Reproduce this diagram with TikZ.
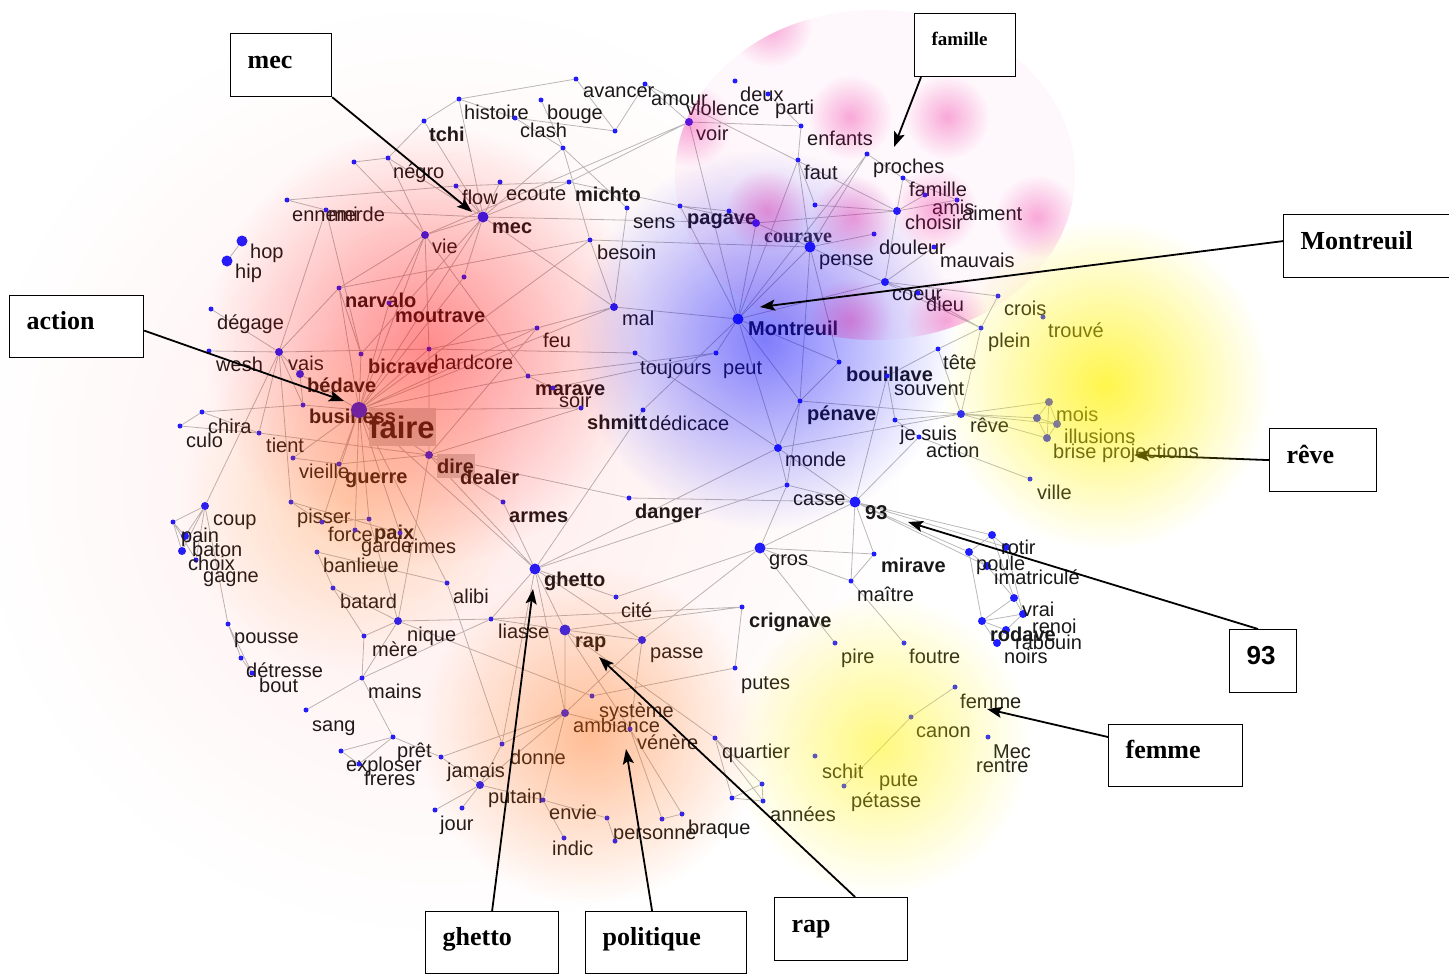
\documentclass[tikz,border=0pt]{standalone}
\usepackage{fontspec}
\setmainfont{Liberation Sans}
\newfontfamily\callfont{Liberation Serif}
\usetikzlibrary{arrows.meta,backgrounds,calc,fadings}

\definecolor{dotblue}{RGB}{30,30,255}
\definecolor{edgegray}{RGB}{185,185,185}
\definecolor{wordink}{RGB}{25,25,25}

\tikzfading[name=blobfade, inner color=transparent!0, outer color=transparent!100]

\tikzset{
  wdot/.style={circle, fill=dotblue, inner sep=0pt, minimum size=5pt},
  middot/.style={wdot, minimum size=8pt},
  bigdot/.style={wdot, minimum size=11pt},
  w/.style={anchor=base west, inner sep=0pt, text=wordink, font=\fontsize{20}{22}\selectfont},
  wb/.style={w, font=\fontsize{20}{22}\selectfont\bfseries},
  link/.style={draw=edgegray, line width=0.8pt},
  callout/.style={draw, fill=white, line width=1.2pt, anchor=north west, inner xsep=17pt, align=left,
    text height=16pt, text depth=10pt, font=\fontsize{26}{28}\callfont\bfseries},
  callarrow/.style={-{Stealth[length=15pt,width=11pt,inset=3pt]}, line width=1.8pt},
}

\begin{document}
\begin{tikzpicture}[x=1pt,y=-1pt]
\useasboundingbox (0,0) rectangle (1449,974);

% gray boxes behind faire and dire
\fill[gray!35] (369,408) rectangle (436,446);
\fill[gray!35] (437,454) rectangle (475,478);

% top and left words
\node[wdot] (hist) at (459,99) {}; \node[w] (hist-t) at (464,119) {histoire};
\node[wdot] (avancer) at (576,79) {}; \node[w] (avancer-t) at (583,98) {avancer};
\node[wdot] (amour) at (645,84) {}; \node[w] (amour-t) at (651,105) {amour};
\node[wdot] (deux) at (735,81) {}; \node[w] (deux-t) at (740,102) {deux};
\node[wdot] (parti) at (768,94) {}; \node[w] (parti-t) at (775,114) {parti};
\node[w] (violence-t) at (686,115) {violence};
\node[middot] (voir) at (689,122) {}; \node[w] (voir-t) at (696,140) {voir};
\node[wdot] (bouge) at (541,100) {}; \node[w] (bouge-t) at (547,119) {bouge};
\node[wdot] (clash) at (515,118) {}; \node[w] (clash-t) at (520,137) {clash};
\node[wdot] (nA) at (615,131) {};
\node[wdot] (tchi) at (424,121) {}; \node[wb] (tchi-t) at (429,141) {tchi};
\node[wdot] (negro) at (388,158) {}; \node[w] (negro-t) at (393,178) {négro};
\node[wdot] (nB) at (354,162) {};
\node[wdot] (flow) at (456,186) {}; \node[w] (flow-t) at (462,204) {flow};
\node[wdot] (ecoute) at (500,182) {}; \node[w] (ecoute-t) at (506,200) {ecoute};
\node[wdot] (michto) at (569,182) {}; \node[wb] (michto-t) at (575,201) {michto};
\node[wdot] (nC) at (563,148) {};
\node[wdot] (ennemi) at (287,200) {}; \node[w] (ennemi-t) at (292,221) {ennemi};
\node[wdot] (merde) at (326,210) {}; \node[w] (merde-t) at (328,221) {merde};
\node[bigdot] (mec) at (483,217) {}; \node[wb] (mec-t) at (492,233) {mec};
\node[wdot] (sens) at (627,208) {}; \node[w] (sens-t) at (633,228) {sens};
\node[wdot] (pagave) at (680,206) {}; \node[wb] (pagave-t) at (687,224) {pagave};
\node[wdot] (nD) at (729,211) {};
\node[middot] (courave) at (756,223) {};
\node[w, font=\fontsize{20}{22}\callfont\bfseries, text=gray!40!black] (courave-t) at (764,242) {courave};
\node[wdot] (besoin) at (590,240) {}; \node[w] (besoin-t) at (597,259) {besoin};
\node[middot] (vie) at (425,235) {}; \node[w] (vie-t) at (432,253) {vie};
\node[bigdot] (hop) at (242,241) {}; \node[w] (hop-t) at (250,258) {hop};
\node[bigdot] (hip) at (227,261) {}; \node[w] (hip-t) at (235,278) {hip};
\node[wdot] (nE) at (464,277) {};
\node[wdot] (narvalo) at (339,288) {}; \node[wb] (narvalo-t) at (345,307) {narvalo};
\node[wdot] (moutrave) at (389,303) {}; \node[wb] (moutrave-t) at (395,322) {moutrave};
\node[wdot] (degage) at (211,309) {}; \node[w] (degage-t) at (217,329) {dégage};
\node[middot] (mal) at (614,307) {}; \node[w] (mal-t) at (622,325) {mal};
\node[wdot] (feu) at (537,328) {}; \node[w] (feu-t) at (543,347) {feu};
\node[bigdot] (montreuil) at (738,319) {}; \node[wb] (montreuil-t) at (748,335) {Montreuil};
\node[middot] (vais) at (279,352) {}; \node[w] (vais-t) at (288,370) {vais};
\node[wdot] (wesh) at (209,351) {}; \node[w] (wesh-t) at (216,371) {wesh};
\node[wdot] (bicrave) at (361,354) {}; \node[wb] (bicrave-t) at (368,373) {bicrave};
\node[wdot] (hardcore) at (429,349) {}; \node[w] (hardcore-t) at (434,369) {hardcore};
\node[wdot] (toujours) at (635,353) {}; \node[w] (toujours-t) at (640,374) {toujours};
\node[wdot] (peut) at (716,353) {}; \node[w] (peut-t) at (723,374) {peut};
\node[middot] (bedave) at (300,374) {}; \node[wb] (bedave-t) at (307,392) {bédave};
\node[wdot] (marave) at (528,376) {}; \node[wb] (marave-t) at (535,395) {marave};
\node[wdot] (soir) at (553,388) {}; \node[w] (soir-t) at (559,407) {soir};
\node[wdot] (business) at (303,405) {}; \node[wb] (business-t) at (309,423) {business};
\node[wdot, minimum size=16pt] (faire) at (359,410) {};
\node[wb, font=\fontsize{31}{33}\selectfont\bfseries] (faire-t) at (369,438) {faire};
\node[wdot] (chira) at (202,412) {}; \node[w] (chira-t) at (208,433) {chira};
\node[wdot] (culo) at (180,426) {}; \node[w] (culo-t) at (186,447) {culo};
\node[wdot] (tient) at (259,433) {}; \node[w] (tient-t) at (266,452) {tient};
\node[wdot] (shmitt) at (581,408) {}; \node[wb] (shmitt-t) at (587,429) {shmitt};
\node[wdot] (dedicace) at (643,410) {}; \node[w] (dedicace-t) at (649,430) {dédicace};
\node[wdot] (vieille) at (293,458) {}; \node[w] (vieille-t) at (299,478) {vieille};
\node[middot] (dire) at (429,455) {}; \node[wb] (dire-t) at (437,473) {dire};
\node[wdot] (guerre) at (339,464) {}; \node[wb] (guerre-t) at (345,483) {guerre};
\node[wb] (dealer-t) at (460,484) {dealer};
\node[middot] (monde) at (778,448) {}; \node[w] (monde-t) at (785,466) {monde};
\node[wdot] (armes) at (503,502) {}; \node[wb] (armes-t) at (509,522) {armes};
\node[wdot] (danger) at (629,498) {}; \node[wb] (danger-t) at (635,518) {danger};
\node[wdot] (casse) at (787,485) {}; \node[w] (casse-t) at (793,505) {casse};
\node[bigdot] (nn93) at (855,502) {}; \node[wb] (nn93-t) at (865,519) {93};

% lower left words
\node[middot] (coup) at (205,506) {}; \node[w] (coup-t) at (213,525) {coup};
\node[wdot] (nF) at (173,522) {};
\node[middot] (pain) at (185,536) {}; \node[w] (pain-t) at (181,542) {pain};
\node[middot] (baton) at (182,551) {}; \node[w] (baton-t) at (192,556) {baton};
\node[wdot] (choix) at (196,560) {}; \node[w] (choix-t) at (188,570) {choix};
\node[w] (gagne-t) at (203,582) {gagne};
\node[wdot] (pisser) at (291,502) {}; \node[w] (pisser-t) at (297,523) {pisser};
\node[wdot] (force) at (322,522) {}; \node[w] (force-t) at (328,541) {force};
\node[wdot] (paix) at (369,519) {}; \node[wb] (paix-t) at (374,539) {paix};
\node[wdot] (garde) at (355,530) {}; \node[w] (garde-t) at (361,552) {garde};
\node[wdot] (rimes) at (400,533) {}; \node[w] (rimes-t) at (407,553) {rimes};
\node[wdot] (banlieue) at (317,552) {}; \node[w] (banlieue-t) at (323,572) {banlieue};
\node[wdot] (batard) at (333,588) {}; \node[w] (batard-t) at (340,608) {batard};
\node[wdot] (alibi) at (447,583) {}; \node[w] (alibi-t) at (453,603) {alibi};
\node[middot] (nique) at (398,621) {}; \node[w] (nique-t) at (407,641) {nique};
\node[wdot] (mere) at (364,636) {}; \node[w] (mere-t) at (372,656) {mère};
\node[wdot] (pousse) at (228,624) {}; \node[w] (pousse-t) at (234,643) {pousse};
\node[wdot] (detresse) at (241,658) {}; \node[w] (detresse-t) at (246,677) {détresse};
\node[wdot] (bout) at (252,673) {}; \node[w] (bout-t) at (259,692) {bout};
\node[wdot] (mains) at (362,678) {}; \node[w] (mains-t) at (368,698) {mains};
\node[wdot] (sang) at (306,710) {}; \node[w] (sang-t) at (312,731) {sang};
\node[wdot] (pret) at (393,737) {}; \node[w] (pret-t) at (397,757) {prêt};
\node[wdot] (exploser) at (341,751) {}; \node[w] (exploser-t) at (346,771) {exploser};
\node[wdot] (freres) at (359,764) {}; \node[w] (freres-t) at (364,785) {freres};
\node[wdot] (jamais) at (441,757) {}; \node[w] (jamais-t) at (447,777) {jamais};
\node[wdot] (donne) at (502,744) {}; \node[w] (donne-t) at (510,764) {donne};
\node[middot] (putain) at (480,785) {}; \node[w] (putain-t) at (488,803) {putain};
\node[wdot] (jour) at (435,810) {}; \node[w] (jour-t) at (440,830) {jour};
\node[wdot] (nG) at (462,808) {};
\node[wdot] (envie) at (543,800) {}; \node[w] (envie-t) at (549,819) {envie};
\node[wdot] (indic) at (564,838) {}; \node[w] (indic-t) at (552,855) {indic};
\node[wdot] (personne) at (607,818) {}; \node[w] (personne-t) at (613,839) {personne};
\node[wdot] (nH) at (615,841) {};
\node[wdot] (braque) at (682,814) {}; \node[w] (braque-t) at (688,834) {braque};
\node[wdot] (nI) at (662,819) {};

% centre and lower words
\node[bigdot] (ghetto) at (535,569) {}; \node[wb] (ghetto-t) at (544,586) {ghetto};
\node[bigdot] (gros) at (760,548) {}; \node[w] (gros-t) at (769,565) {gros};
\node[wdot] (mirave) at (874,554) {}; \node[wb] (mirave-t) at (881,572) {mirave};
\node[wdot] (maitre) at (851,581) {}; \node[w] (maitre-t) at (857,601) {maître};
\node[wdot] (cite) at (616,597) {}; \node[w] (cite-t) at (621,617) {cité};
\node[wdot] (crignave) at (742,607) {}; \node[wb] (crignave-t) at (749,627) {crignave};
\node[wdot] (liasse) at (491,619) {}; \node[w] (liasse-t) at (498,638) {liasse};
\node[bigdot] (rap) at (565,630) {}; \node[wb] (rap-t) at (575,647) {rap};
\node[middot] (passe) at (642,640) {}; \node[w] (passe-t) at (650,658) {passe};
\node[wdot] (pire) at (835,643) {}; \node[w] (pire-t) at (841,663) {pire};
\node[wdot] (foutre) at (904,643) {}; \node[w] (foutre-t) at (909,663) {foutre};
\node[wdot] (putes) at (735,668) {}; \node[w] (putes-t) at (741,689) {putes};
\node[wdot] (systeme) at (592,696) {}; \node[w] (systeme-t) at (599,717) {système};
\node[middot] (ambiance) at (565,713) {}; \node[w] (ambiance-t) at (573,732) {ambiance};
\node[wdot] (venere) at (630,729) {}; \node[w] (venere-t) at (637,749) {vénère};
\node[wdot] (quartier) at (715,738) {}; \node[w] (quartier-t) at (722,758) {quartier};
\node[wdot] (anA) at (762,784) {}; \node[wdot] (anB) at (732,798) {}; \node[wdot] (anC) at (763,801) {};
\node[w] (annees-t) at (770,821) {années};
\node[wdot] (schit) at (815,756) {}; \node[w] (schit-t) at (822,778) {schit};
\node[wdot] (pute) at (844,786) {}; \node[w] (pute-t) at (879,786) {pute};
\node[w] (petasse-t) at (851,807) {pétasse};
\node[wdot] (femme) at (955,687) {}; \node[w] (femme-t) at (960,708) {femme};
\node[wdot] (canon) at (911,717) {}; \node[w] (canon-t) at (916,737) {canon};
\node[wdot] (mecf) at (988,737) {}; \node[w] (mecf-t) at (993,758) {Mec};
\node[w] (rentre-t) at (976,772) {rentre};

% cluster round 93
\node[middot] (cA) at (992,535) {}; \node[middot] (poule) at (969,552) {};
\node[middot] (rotir) at (1006,547) {}; \node[middot] (imat) at (987,566) {};
\node[middot] (cB) at (1014,598) {}; \node[middot] (vrai) at (1023,614) {};
\node[middot] (rodave) at (982,621) {}; \node[middot] (renoi) at (1006,630) {};
\node[middot] (noirs) at (997,643) {};
\node[w] (rotir-t) at (1001,554) {rotir};
\node[w] (poule-t) at (976,570) {poule};
\node[w] (imat-t) at (994,584) {imatriculé};
\node[w] (vrai-t) at (1022,616) {vrai};
\node[w] (renoi-t) at (1032,633) {renoi};
\node[wb] (rodave-t) at (990,641) {rodave};
\node[w] (rabouin-t) at (1015,649) {rabouin};
\node[w] (noirs-t) at (1004,663) {noirs};

% upper right words
\node[wdot] (enfants) at (801,126) {}; \node[w] (enfants-t) at (807,145) {enfants};
\node[wdot] (faut) at (798,160) {}; \node[w] (faut-t) at (804,179) {faut};
\node[wdot] (nJ) at (815,205) {};
\node[wdot] (proches) at (867,154) {}; \node[w] (proches-t) at (873,173) {proches};
\node[wdot] (famille) at (903,178) {}; \node[w] (famille-t) at (909,196) {famille};
\node[wdot] (amis) at (925,195) {}; \node[w] (amis-t) at (932,214) {amis};
\node[wdot] (aiment) at (957,200) {}; \node[w] (aiment-t) at (962,220) {aiment};
\node[middot] (choisir) at (897,211) {}; \node[w] (choisir-t) at (905,229) {choisir};
\node[bigdot] (pense) at (810,247) {}; \node[w] (pense-t) at (819,265) {pense};
\node[wdot] (douleur) at (874,234) {}; \node[w] (douleur-t) at (879,254) {douleur};
\node[wdot] (mauvais) at (934,247) {}; \node[w] (mauvais-t) at (940,267) {mauvais};
\node[middot] (coeur) at (885,282) {}; \node[w] (coeur-t) at (892,300) {coeur};
\node[wdot] (dieu) at (918,293) {}; \node[w] (dieu-t) at (926,311) {dieu};
\node[wdot] (crois) at (998,296) {}; \node[w] (crois-t) at (1004,315) {crois};
\node[wdot] (trouve) at (1043,317) {}; \node[w] (trouve-t) at (1048,337) {trouvé};
\node[wdot] (plein) at (981,328) {}; \node[w] (plein-t) at (988,347) {plein};
\node[wdot] (bouillave) at (839,362) {}; \node[wb] (bouillave-t) at (846,381) {bouillave};
\node[wdot] (souvent) at (887,376) {}; \node[w] (souvent-t) at (894,395) {souvent};
\node[wdot] (tete) at (938,349) {}; \node[w] (tete-t) at (943,369) {tête};
\node[wdot] (penave) at (800,401) {}; \node[wb] (penave-t) at (807,420) {pénave};
\node[wdot] (jesuis) at (895,420) {}; \node[w] (jesuis-t) at (900,440) {je suis};
\node[wdot] (action) at (919,437) {}; \node[w] (action-t) at (926,457) {action};
\node[middot] (reve) at (961,414) {}; \node[w] (reve-t) at (970,432) {rêve};
\node[middot] (mois) at (1049,402) {}; \node[w] (mois-t) at (1056,421) {mois};
\node[middot] (nK) at (1037,418) {};
\node[middot] (illusions) at (1057,424) {}; \node[w] (illusions-t) at (1064,443) {illusions};
\node[middot] (brise) at (1047,438) {}; \node[w] (brise-t) at (1053,458) {brise projections};
\node[wdot] (ville) at (1030,479) {}; \node[w] (ville-t) at (1037,499) {ville};

% links
\begin{scope}[on background layer]
\path[link] (hist) -- (avancer) (hist) -- (tchi) (hist) -- (mec) (hist) -- (clash)
  (clash) -- (nA) (avancer) -- (nA) (amour) -- (nA) (amour) -- (voir) (amour) -- (choisir)
  (bouge) -- (nC) (nC) -- (mec) (nC) -- (besoin) (nC) -- (sens) (clash) -- (nC)
  (voir) -- (vie) (voir) -- (michto) (voir) -- (montreuil) (voir) -- (enfants)
  (parti) -- (enfants) (enfants) -- (faut) (faut) -- (nJ) (faut) -- (montreuil) (faut) -- (pense)
  (nJ) -- (choisir) (proches) -- (famille) (proches) -- (pense) (proches) -- (montreuil)
  (famille) -- (choisir) (famille) -- (amis) (famille) -- (aiment) (choisir) -- (amis)
  (choisir) -- (aiment) (choisir) -- (courave) (choisir) -- (coeur);
\path[link] (pense) -- (douleur) (mauvais) -- (coeur) (pense) -- (montreuil) (pense) -- (courave)
  (pense) -- (nD) (pense) -- (plein) (pense) -- (bouillave) (pense) -- (penave) (besoin) -- (pense)
  (courave) -- (pagave) (courave) -- (montreuil) (courave) -- (nD) (mec) -- (courave)
  (michto) -- (pagave) (pagave) -- (montreuil) (pagave) -- (nD) (sens) -- (mal)
  (besoin) -- (mal) (besoin) -- (faire) (besoin) -- (narvalo);
\path[link] (mec) -- (vie) (mec) -- (flow) (mec) -- (ecoute) (mec) -- (michto) (mec) -- (tchi)
  (mec) -- (negro) (mec) -- (merde) (mec) -- (nE) (mec) -- (faire) (mec) -- (bicrave) (mec) -- (mal)
  (flow) -- (ennemi) (flow) -- (michto) (negro) -- (nB) (negro) -- (vie) (negro) -- (tchi)
  (nB) -- (vie) (ennemi) -- (merde) (merde) -- (vais) (merde) -- (bicrave)
  (vie) -- (narvalo) (vie) -- (faire) (vie) -- (hardcore) (vie) -- (marave)
  (degage) -- (vais) (wesh) -- (vais) (vais) -- (narvalo) (vais) -- (bedave) (vais) -- (business)
  (vais) -- (coup) (vais) -- (pisser) (vais) -- (hardcore) (hop) -- (hip);
\path[link] (narvalo) -- (faire) (narvalo) -- (bicrave) (moutrave) -- (faire) (moutrave) -- (vie)
  (bicrave) -- (faire) (hardcore) -- (faire) (hardcore) -- (feu) (hardcore) -- (dire)
  (bedave) -- (faire) (bedave) -- (business) (business) -- (faire) (business) -- (chira)
  (tient) -- (dire) (tient) -- (culo) (tient) -- (chira) (tient) -- (vais) (chira) -- (culo)
  (faire) -- (vieille) (faire) -- (guerre) (faire) -- (dire) (faire) -- (paix) (faire) -- (force)
  (faire) -- (garde) (faire) -- (rimes) (faire) -- (shmitt) (faire) -- (marave) (faire) -- (alibi)
  (faire) -- (ghetto) (faire) -- (feu) (faire) -- (mal) (nE) -- (faire)
  (dire) -- (guerre) (dire) -- (nique) (dire) -- (armes) (dire) -- (danger) (dire) -- (ghetto)
  (dire) -- (shmitt) (dire) -- (feu) (guerre) -- (vieille) (feu) -- (mal);
\path[link] (mal) -- (montreuil) (toujours) -- (hardcore) (toujours) -- (monde)
  (peut) -- (montreuil) (peut) -- (marave) (soir) -- (peut) (marave) -- (soir)
  (dedicace) -- (ghetto) (dedicace) -- (montreuil) (armes) -- (ghetto) (danger) -- (nn93)
  (monde) -- (montreuil) (monde) -- (casse) (monde) -- (nn93) (monde) -- (reve) (monde) -- (penave)
  (monde) -- (ghetto) (casse) -- (nn93) (penave) -- (montreuil) (penave) -- (bouillave)
  (penave) -- (reve) (penave) -- (casse) (bouillave) -- (montreuil) (souvent) -- (nn93)
  (souvent) -- (jesuis) (tete) -- (souvent) (tete) -- (plein) (tete) -- (reve) (plein) -- (reve)
  (coeur) -- (montreuil) (coeur) -- (crois) (coeur) -- (dieu) (dieu) -- (plein) (crois) -- (plein);
\path[link] (reve) -- (mois) (reve) -- (nK) (reve) -- (illusions) (reve) -- (brise) (reve) -- (jesuis)
  (mois) -- (nK) (mois) -- (illusions) (mois) -- (brise) (nK) -- (illusions) (nK) -- (brise)
  (illusions) -- (brise) (action) -- (ville) (action) -- (nn93) (jesuis) -- (action)
  (nn93) -- (rotir) (nn93) -- (cA) (nn93) -- (poule) (nn93) -- (imat) (nn93) -- (mirave)
  (nn93) -- (maitre) (nn93) -- (gros) (gros) -- (mirave) (gros) -- (maitre) (gros) -- (pire)
  (gros) -- (passe) (gros) -- (cite) (gros) -- (casse) (mirave) -- (maitre) (maitre) -- (foutre)
  (cA) -- (poule) (cA) -- (rotir) (poule) -- (imat) (cA) -- (cB) (poule) -- (rodave) (imat) -- (cB)
  (cB) -- (vrai) (cB) -- (rodave) (rodave) -- (vrai) (rodave) -- (renoi) (vrai) -- (renoi)
  (renoi) -- (noirs) (rodave) -- (noirs) (rotir) -- (vrai);
\path[link] (ghetto) -- (rap) (ghetto) -- (liasse) (ghetto) -- (cite) (ghetto) -- (passe)
  (ghetto) -- (ambiance) (ghetto) -- (casse) (ghetto) -- (donne) (rap) -- (passe) (rap) -- (liasse)
  (rap) -- (ambiance) (rap) -- (venere) (rap) -- (quartier) (rap) -- (crignave) (liasse) -- (nique)
  (liasse) -- (crignave) (liasse) -- (mains) (passe) -- (ambiance) (passe) -- (venere)
  (systeme) -- (putes) (systeme) -- (nique) (putes) -- (crignave) (ambiance) -- (donne)
  (ambiance) -- (putain) (ambiance) -- (jamais) (ambiance) -- (venere) (ambiance) -- (envie)
  (venere) -- (nI) (venere) -- (braque) (nI) -- (braque) (quartier) -- (anA) (quartier) -- (anB)
  (quartier) -- (anC) (anA) -- (anB) (anB) -- (anC) (anA) -- (anC);
\path[link] (nique) -- (mere) (nique) -- (batard) (nique) -- (paix) (nique) -- (mains)
  (mere) -- (batard) (mere) -- (mains) (batard) -- (banlieue) (banlieue) -- (alibi)
  (pisser) -- (force) (pisser) -- (rimes) (force) -- (paix) (alibi) -- (donne)
  (coup) -- (nF) (coup) -- (pain) (coup) -- (baton) (coup) -- (choix) (nF) -- (pain) (nF) -- (baton)
  (nF) -- (choix) (coup) -- (pousse) (pousse) -- (detresse) (pousse) -- (bout) (detresse) -- (bout)
  (mains) -- (sang) (mains) -- (pret) (pret) -- (exploser) (pret) -- (freres) (exploser) -- (freres)
  (pret) -- (jamais) (jamais) -- (putain) (putain) -- (jour) (putain) -- (nG) (putain) -- (envie)
  (putain) -- (donne) (envie) -- (indic) (envie) -- (personne) (personne) -- (nH)
  (canon) -- (femme) (canon) -- (pute);
\end{scope}

% arrow to reve (under the yellow)
\node[callout, text width=73pt, minimum height=63pt] (breve) at (1269,428) {rêve};
\coordinate (reve-tip) at (1134,455);
\draw[callarrow] (breve.west) -- (reve-tip);

% coloured clouds
\fill[red, opacity=0.08, path fading=blobfade] (440,470) circle (470pt);
\fill[red, opacity=0.42, path fading=blobfade] (425,345) circle (220pt);
\fill[orange, opacity=0.25, path fading=blobfade] (350,500) circle (170pt);
\fill[orange!80!red, opacity=0.40, path fading=blobfade] (590,735) circle (170pt);
\fill[blue, opacity=0.50, path fading=blobfade] (765,340) circle (190pt);
\fill[yellow, opacity=0.70, path fading=blobfade] (1105,385) circle (165pt);
\fill[yellow, opacity=0.50, path fading=blobfade] (880,745) circle (150pt);
\begin{scope}
  \clip (875,175) ellipse [x radius=200pt, y radius=165pt];
  \fill[magenta, opacity=0.03] (600,0) rectangle (1100,360);
  \fill[magenta, opacity=0.32, path fading=blobfade] (770,25) circle (42pt);
  \fill[magenta, opacity=0.32, path fading=blobfade] (690,125) circle (42pt);
  \fill[magenta, opacity=0.32, path fading=blobfade] (850,117) circle (42pt);
  \fill[magenta, opacity=0.32, path fading=blobfade] (947,117) circle (42pt);
  \fill[magenta, opacity=0.32, path fading=blobfade] (767,210) circle (42pt);
  \fill[magenta, opacity=0.32, path fading=blobfade] (853,217) circle (42pt);
  \fill[magenta, opacity=0.32, path fading=blobfade] (935,210) circle (42pt);
  \fill[magenta, opacity=0.32, path fading=blobfade] (1037,217) circle (42pt);
  \fill[magenta, opacity=0.32, path fading=blobfade] (850,320) circle (42pt);
  \fill[magenta, opacity=0.32, path fading=blobfade] (947,320) circle (42pt);
\end{scope}

% callouts
\node[callout, text width=67pt, minimum height=63pt] (bmec) at (230,33) {mec};
\node[callout, text width=67pt, minimum height=63pt, text height=16pt, text depth=16pt,
  font=\fontsize{19}{21}\callfont\bfseries] (bfam) at (914,13) {famille};
\node[callout, text width=132pt, minimum height=63pt] (bmont) at (1283,214) {Montreuil};
\node[callout, text width=100pt, minimum height=62pt] (bact) at (9,295) {action};
\node[callout, text width=33pt, minimum height=63pt, font=\fontsize{26}{28}\selectfont\bfseries] (b93) at (1229,629) {93};
\node[callout, text width=100pt, minimum height=62pt] (bfem) at (1108,724) {femme};
\node[callout, text width=99pt, minimum height=62pt] (bghe) at (425,911) {ghetto};
\node[callout, text width=127pt, minimum height=62pt] (bpol) at (585,911) {politique};
\node[callout, text width=99pt, minimum height=63pt] (brap) at (774,897) {rap};

\coordinate (mec-tip) at (472,212);
\coordinate (fam-tip) at (894,147);
\coordinate (mont-tip) at (760,307);
\coordinate (act-tip) at (344,401);
\coordinate (n93-tip) at (908,522);
\coordinate (fem-tip) at (987,709);
\coordinate (ghe-tip) at (533,589);
\coordinate (pol-tip) at (626,749);
\coordinate (rap-tip) at (599,657);

\draw[callarrow] (bmec.south east) -- (mec-tip);
\draw[callarrow] ($(bfam.south west)+(7,0)$) -- (fam-tip);
\draw[callarrow] ($(bmont.west)+(0,-5)$) -- (mont-tip);
\draw[callarrow] ($(bact.east)+(0,4)$) -- (act-tip);
\draw[callarrow] ($(b93.north west)+(29,0)$) -- (n93-tip);
\draw[callarrow] ($(bfem.north west)+(0,13)$) -- (fem-tip);
\draw[callarrow] (bghe.north) -- (ghe-tip);
\draw[callarrow] ($(bpol.north)+(-14,0)$) -- (pol-tip);
\draw[callarrow] ($(brap.north)+(14,0)$) -- (rap-tip);
\end{tikzpicture}
\end{document}
